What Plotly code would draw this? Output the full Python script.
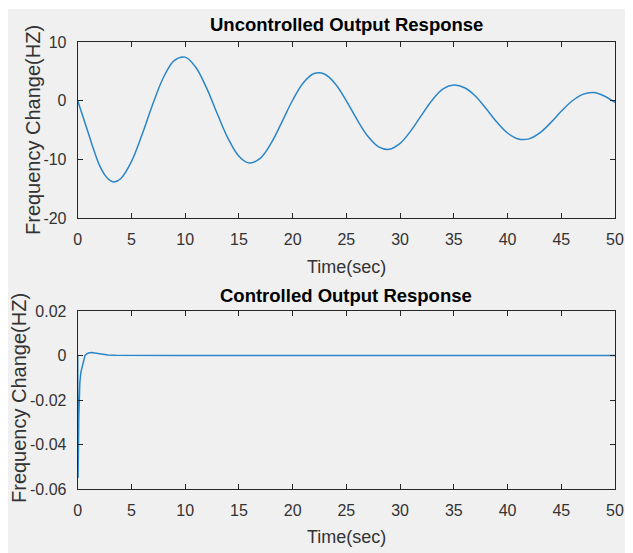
import plotly.graph_objects as go

# ---------------- data ----------------
t_unc = [0, 0.5, 1, 1.5, 2, 2.5, 3, 3.4, 4, 5, 6, 7, 8, 9, 10, 11, 12, 13, 14, 15,
         16, 17, 18, 19, 20, 21, 22, 23, 24, 25, 26, 27, 28, 29, 30, 31, 32, 33, 34,
         35, 36, 37, 38, 39, 40, 41, 42, 43, 44, 45, 46, 47, 48, 49, 50]
y_unc = [0, -2.8, -5.6, -8.4, -10.9, -12.6, -13.6, -13.85, -13.3, -10.4, -5.74, -0.51,
         4.04, 6.88, 7.42, 5.66, 2.13, -2.28, -6.46, -9.46, -10.64, -9.79, -7.24, -3.66,
         0.07, 3.05, 4.62, 4.50, 2.80, -0.02, -3.24, -6.06, -7.87, -8.29, -7.28, -5.15,
         -2.46, 0.13, 2.0, 2.65, 2.2, 0.8, -1.35, -3.64, -5.51, -6.53, -6.51, -5.50,
         -3.79, -1.82, -0.06, 1.08, 1.39, 0.80, -0.3]

t_ctl = [0, 0.03, 0.06, 0.1, 0.15, 0.2, 0.3, 0.43, 0.55, 0.68, 0.85, 1.0, 1.3, 1.7,
         2.2, 2.8, 3.5, 5, 7, 10, 20, 30, 40, 50]
y_ctl = [0, -0.055, -0.045, -0.028, -0.018, -0.012, -0.0075, -0.0045, -0.002, 0.0,
         0.0007, 0.0011, 0.0013, 0.0010, 0.0005, 0.0002, 0.0001, 0.0, 0.0, 0.0, 0.0,
         0.0, 0.0, 0.0]

x_ticks = [0, 5, 10, 15, 20, 25, 30, 35, 40, 45, 50]
y1_ticks = [-20, -10, 0, 10]
y1_text = ["-20", "-10", "0", "10"]
y2_ticks = [-0.06, -0.04, -0.02, 0, 0.02]
y2_text = ["-0.06", "-0.04", "-0.02", "0", "0.02"]

title1 = "Uncontrolled Output Response"
title2 = "Controlled Output Response"
xlab = "Time(sec)"
ylab = "Frequency Change(HZ)"

# ---------------- figure ----------------
# page body has an 8px margin, so the figure is offset by 8px in the window
OX, OY = 8, 8
W, H = 633 - OX, 553 - OY
FONT = "Liberation Sans, Arial, sans-serif"
AX = "#262626"
TXT = "#333333"
LINE = "#2a86c8"

def py(px):
    return 1 - (px - OY) / H

def pxx(px):
    return (px - OX) / W

fig = go.Figure()
fig.add_trace(go.Scatter(x=t_unc, y=y_unc, mode="lines", xaxis="x", yaxis="y",
                         line=dict(color=LINE, width=1.5, shape="spline"),
                         showlegend=False, hoverinfo="skip"))
fig.add_trace(go.Scatter(x=t_ctl, y=y_ctl, mode="lines", xaxis="x2", yaxis="y2",
                         line=dict(color=LINE, width=1.5),
                         showlegend=False, hoverinfo="skip"))

xl, xr = 77.7, 615
axis_common = dict(showline=True, linecolor=AX, linewidth=1, mirror="ticks",
                   ticks="inside", ticklen=5, tickcolor=AX, tickwidth=1,
                   showgrid=False, zeroline=False, automargin=False,
                   tickfont=dict(family=FONT, size=16, color=TXT))

fig.update_layout(
    width=W, height=H,
    margin=dict(l=0, r=0, t=0, b=0, autoexpand=False),
    paper_bgcolor="white",
    plot_bgcolor="white",
    xaxis=dict(domain=[pxx(xl), pxx(xr)], range=[0, 50], tickvals=x_ticks,
               anchor="y", ticklabelstandoff=7, **axis_common),
    yaxis=dict(domain=[py(218), py(42)], range=[-20, 10], tickvals=y1_ticks,
               ticktext=y1_text, anchor="x", ticklabelstandoff=7, **axis_common),
    xaxis2=dict(domain=[pxx(xl), pxx(xr)], range=[0, 50], tickvals=x_ticks,
                anchor="y2", ticklabelstandoff=7, **axis_common),
    yaxis2=dict(domain=[py(489), py(311)], range=[-0.06, 0.02], tickvals=y2_ticks,
                ticktext=y2_text, anchor="x2", ticklabelstandoff=7, **axis_common),
    shapes=[dict(type="rect", xref="paper", yref="paper", x0=0, x1=1.0,
                 y0=0, y1=py(9), fillcolor="#f0f0f0", line=dict(width=0),
                 layer="below")],
)

cx = pxx((xl + xr) / 2)
ann = []
ann.append(dict(text="<b>" + title1 + "</b>", x=cx, y=py(24), xref="paper", yref="paper",
                showarrow=False, xanchor="center", yanchor="middle",
                font=dict(family=FONT, size=18.5, color="black")))
ann.append(dict(text="<b>" + title2 + "</b>", x=cx, y=py(295), xref="paper", yref="paper",
                showarrow=False, xanchor="center", yanchor="middle",
                font=dict(family=FONT, size=18.5, color="black")))
ann.append(dict(text=xlab, x=cx, y=py(267), xref="paper", yref="paper",
                showarrow=False, xanchor="center", yanchor="middle",
                font=dict(family=FONT, size=18, color=TXT)))
ann.append(dict(text=xlab, x=cx, y=py(537), xref="paper", yref="paper",
                showarrow=False, xanchor="center", yanchor="middle",
                font=dict(family=FONT, size=18, color=TXT)))
ann.append(dict(text=ylab, x=pxx(33), y=py(130), xref="paper", yref="paper",
                showarrow=False, xanchor="center", yanchor="middle", textangle=-90,
                font=dict(family=FONT, size=20, color=TXT)))
ann.append(dict(text=ylab, x=pxx(19), y=py(398), xref="paper", yref="paper",
                showarrow=False, xanchor="center", yanchor="middle", textangle=-90,
                font=dict(family=FONT, size=20, color=TXT)))
fig.update_layout(annotations=ann)

fig.write_html("out.html")
